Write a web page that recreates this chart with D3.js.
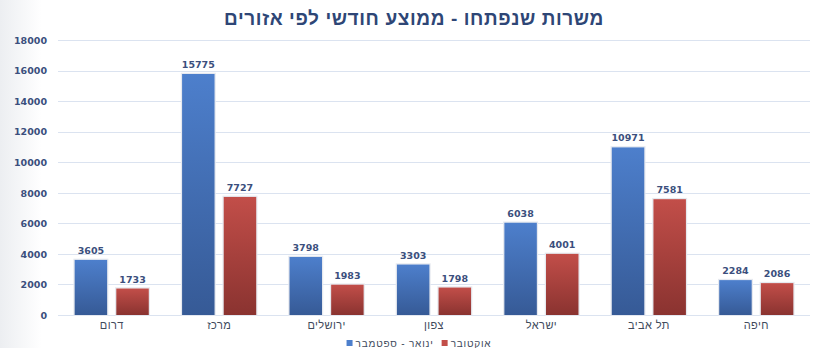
<!DOCTYPE html>
<html lang="he">
<head>
<meta charset="utf-8">
<script src="https://cdn.jsdelivr.net/npm/d3@7"></script>
<style>
  html, body { margin: 0; padding: 0; background: #ffffff; }
  svg { display: block; }
</style>
</head>
<body>
<div id="chart"></div>
<script>
const title = "משרות שנפתחו - ממוצע חודשי לפי אזורים";
const categories = ["דרום", "מרכז", "ירושלים", "צפון", "ישראל", "תל אביב", "חיפה"];
const seriesNames = ["ינואר - ספטמבר", "אוקטובר"];
const janSep = [3605, 15775, 3798, 3303, 6038, 10971, 2284];
const october = [1733, 7727, 1983, 1798, 4001, 7581, 2086];
const yTicks = [0, 2000, 4000, 6000, 8000, 10000, 12000, 14000, 16000, 18000];

const W = 837, H = 348;
const svg = d3.select("#chart").append("svg").attr("width", W).attr("height", H);
const defs = svg.append("defs");

const bg = defs.append("linearGradient").attr("id", "bg").attr("x1", 0).attr("x2", 1).attr("y1", 0).attr("y2", 0);
bg.append("stop").attr("offset", "0%").attr("stop-color", "#eceef1");
bg.append("stop").attr("offset", "5%").attr("stop-color", "#ffffff");
bg.append("stop").attr("offset", "100%").attr("stop-color", "#ffffff");
svg.append("rect").attr("width", W).attr("height", H).attr("fill", "url(#bg)");

const gradColors = [["#4d7fcc", "#365a96"], ["#c24e49", "#8a3330"]];
gradColors.forEach((c, i) => {
  const g = defs.append("linearGradient").attr("id", "g" + i).attr("x1", 0).attr("x2", 0).attr("y1", 0).attr("y2", 1);
  g.append("stop").attr("offset", "0%").attr("stop-color", c[0]);
  g.append("stop").attr("offset", "100%").attr("stop-color", c[1]);
});

const x0 = d3.scaleBand().domain(categories).range([58, 810]).paddingInner(0).paddingOuter(0);
const bw = x0.bandwidth();
const x1 = d3.scaleBand().domain(seriesNames).range([bw * 0.155, bw * 0.845]).paddingInner(0.22).paddingOuter(0);
const y = d3.scaleLinear().domain([0, 18000]).range([315, 40]);

const textColor = "#3b4f7d";

// gridlines
svg.append("g").selectAll("line").data(yTicks).join("line")
  .attr("x1", 58).attr("x2", 810)
  .attr("y1", d => Math.round(y(d)) + 0.5).attr("y2", d => Math.round(y(d)) + 0.5)
  .attr("stroke", "#dbe3f0").attr("stroke-width", 1.2);

// y-axis labels
const yAxis = d3.axisLeft(y).tickValues(yTicks).tickSize(0).tickPadding(0).tickFormat(d3.format("d"));
const ya = svg.append("g").attr("transform", "translate(47,0)").call(yAxis);
ya.select(".domain").remove();
ya.selectAll("text").attr("fill", textColor).attr("font-family", "DejaVu Sans, Verdana, sans-serif")
  .attr("font-size", 9.5).attr("font-weight", "bold").attr("dy", "0.35em");

// x-axis labels
const xAxis = d3.axisBottom(x0).tickSize(0).tickPadding(0);
const xa = svg.append("g").attr("transform", "translate(0,321)").call(xAxis);
xa.select(".domain").remove();
xa.selectAll("text").attr("fill", "#404a5c").attr("font-family", "Liberation Sans, Arial, sans-serif")
  .attr("font-size", 11).attr("letter-spacing", 0.4).attr("dy", "0.71em").attr("direction", "rtl").attr("unicode-bidi", "plaintext");

const data = categories.map((c, i) => ({ cat: c, vals: [janSep[i], october[i]] }));

const groups = svg.append("g").selectAll("g").data(data).join("g")
  .attr("transform", d => `translate(${x0(d.cat)},0)`);

const bars = groups.selectAll("g.b").data(d => d.vals.map((v, i) => ({ v, i, s: seriesNames[i] }))).join("g").attr("class", "b");

bars.append("rect")
  .attr("x", d => x1(d.s) - 0.5).attr("y", d => y(d.v) - 0.5)
  .attr("width", x1.bandwidth() + 1).attr("height", d => y(0) - y(d.v) + 0.5)
  .attr("fill", "none").attr("stroke", "#e6e9ef").attr("stroke-width", 1.5);
bars.append("rect")
  .attr("x", d => x1(d.s)).attr("y", d => y(d.v))
  .attr("width", x1.bandwidth()).attr("height", d => y(0) - y(d.v))
  .attr("fill", d => `url(#g${d.i})`);

bars.append("text")
  .attr("x", d => x1(d.s) + x1.bandwidth() / 2).attr("y", d => y(d.v) - 6)
  .attr("text-anchor", "middle").attr("fill", textColor)
  .attr("font-family", "DejaVu Sans, Verdana, sans-serif").attr("font-size", 9.5).attr("font-weight", "bold")
  .text(d => d.v);

// title
svg.append("text").attr("x", 414).attr("y", 25).attr("text-anchor", "middle")
  .attr("direction", "rtl").attr("fill", "#2e4676")
  .attr("font-family", "Liberation Sans, Arial, sans-serif").attr("font-size", 19).attr("font-weight", "bold")
  .attr("letter-spacing", 0.6)
  .text(title);

// legend (laid out from measured text widths, centred)
const lg = svg.append("g");
const items = seriesNames.map((name, i) => {
  const g = lg.append("g");
  g.append("rect").attr("x", 0).attr("y", 0).attr("width", 6).attr("height", 6).attr("fill", gradColors[i][0]);
  const t = g.append("text").attr("x", 9).attr("y", 6.5).attr("text-anchor", "start")
    .attr("direction", "ltr").attr("unicode-bidi", "plaintext")
    .attr("fill", "#404a5c").attr("font-family", "Liberation Sans, Arial, sans-serif").attr("font-size", 10)
    .attr("letter-spacing", 0.8)
    .text(name);
  return { g, w: 9 + t.node().getComputedTextLength() };
});
const gap = 8;
const total = d3.sum(items, d => d.w) + gap * (items.length - 1);
let cx = 419 - total / 2;
items.forEach(it => { it.g.attr("transform", `translate(${cx},340)`); cx += it.w + gap; });
</script>
</body>
</html>
